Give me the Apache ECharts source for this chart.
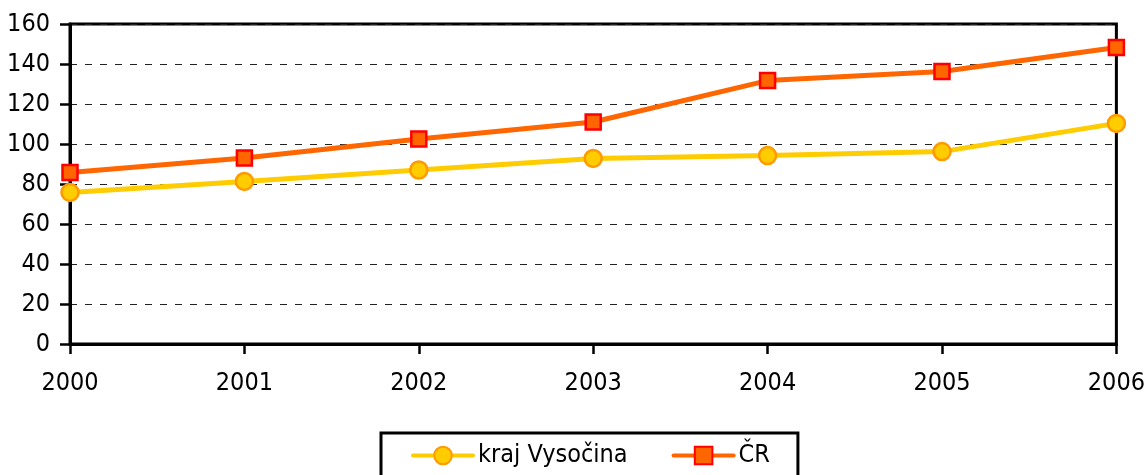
<!DOCTYPE html>
<html>
<head>
<meta charset="utf-8">
<script src="https://cdn.jsdelivr.net/npm/echarts@6/dist/echarts.min.js"></script>
<style>html,body{margin:0;padding:0;background:#fff}#c{width:1148px;height:475px}</style>
</head>
<body>
<div id="c"></div>
<script>
const years = ['2000','2001','2002','2003','2004','2005','2006'];
const vysocina = [75.8, 81.3, 87.0, 92.8, 94.2, 96.2, 110.3];
const cr = [85.7, 93.0, 102.5, 111.0, 131.7, 136.2, 148.3];
const FONT = "'Liberation Sans Narrow', 'Arial Narrow', 'DejaVu Sans Condensed', sans-serif";
const chart = echarts.init(document.getElementById('c'));
chart.setOption({
  animation: false,
  textStyle: { fontFamily: FONT },
  grid: { left: 70, right: 29, top: 24, bottom: 131, show: true, borderColor: '#000', borderWidth: 3, backgroundColor: 'transparent' },
  xAxis: {
    type: 'category', data: years, boundaryGap: false,
    axisLine: { lineStyle: { color: '#000', width: 3 } },
    axisTick: { show: true, length: 10, interval: 0, lineStyle: { color: '#000', width: 2.5 } },
    axisLabel: { color: '#000', fontSize: 25, fontFamily: FONT, margin: 27, interval: 0 },
    splitLine: { show: false }
  },
  yAxis: {
    type: 'value', min: 0, max: 160, interval: 20,
    axisLine: { show: true, lineStyle: { color: '#000', width: 3 } },
    axisTick: { show: true, length: 10, lineStyle: { color: '#000', width: 2.5 } },
    axisLabel: { color: '#000', fontSize: 25, fontFamily: FONT, margin: 20 },
    splitLine: { show: true, lineStyle: { color: '#222', width: 1, type: [7, 8] } }
  },
  legend: {
    left: 381, top: 433,
    padding: [10, 28, 20, 30],
    borderColor: '#000', borderWidth: 3,
    itemWidth: 60, itemHeight: 22, itemGap: 44,
    lineStyle: { width: 4, cap: 'round' },
    textStyle: { color: '#000', fontSize: 25, fontFamily: FONT },
    data: ['kraj Vysočina', 'ČR']
  },
  series: [
    {
      name: 'kraj Vysočina', type: 'line', data: vysocina,
      symbol: 'circle', symbolSize: 17,
      lineStyle: { color: '#FFCC00', width: 5 },
      itemStyle: { color: '#FFCC00', borderColor: '#FF9900', borderWidth: 2.5 },
      z: 3
    },
    {
      name: 'ČR', type: 'line', data: cr,
      symbol: 'rect', symbolSize: 15,
      lineStyle: { color: '#FF6600', width: 5 },
      itemStyle: { color: '#FF6600', borderColor: '#FF0000', borderWidth: 2.5 },
      z: 4
    }
  ]
});
</script>
</body>
</html>
